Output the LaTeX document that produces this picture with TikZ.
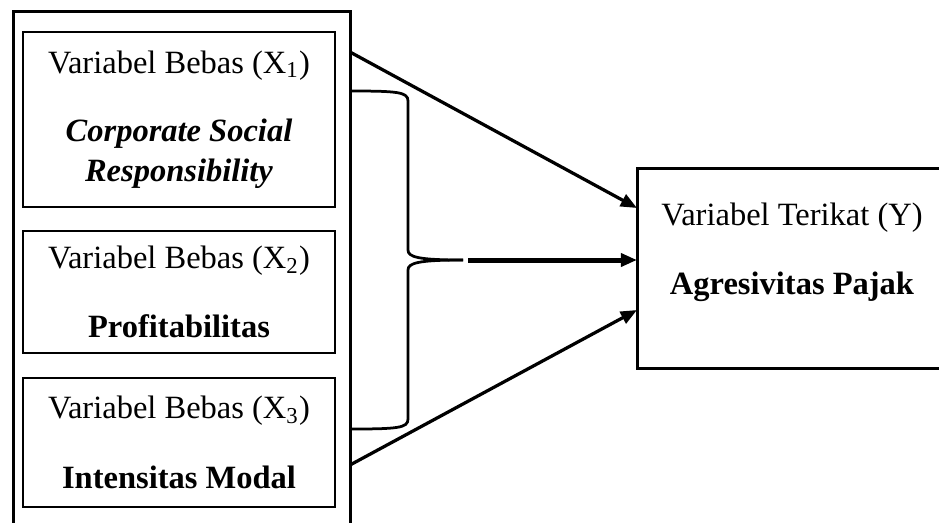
\documentclass[tikz,border=0pt]{standalone}
\usepackage{fontspec}
\setmainfont{Liberation Serif}
\usepackage{tikz}
\usetikzlibrary{arrows.meta}

\tikzset{
  outerbox/.style={draw, line width=1.2pt, anchor=north west, inner sep=0pt, outer sep=0pt},
  varbox/.style={draw, line width=0.6pt, anchor=north west, inner sep=0pt, outer sep=0pt,
                 minimum width=124.8pt, align=center, font=\fontsize{13}{15}\selectfont},
  vartext/.style={align=center, font=\fontsize{13}{15}\selectfont},
  arr/.style={-{Triangle[length=6.5pt,width=5.2pt]}, line width=1.3pt},
}

\begin{document}
\begin{tikzpicture}[x=0.4pt, y=-0.4pt]
                \useasboundingbox (0,0) rectangle (939,522);
                \clip (0,0) rectangle (939,522);

                % Independent variables
                \node[outerbox, minimum width=134.8pt, minimum height=212pt] (bebas) at (13,11) {};
                \node[varbox, minimum height=70pt] (x1) at (23,32)
                  {Variabel Bebas (X\textsubscript{1})\\[12.2pt]\textbf{\textit{Corporate Social}}\\[1pt]\textbf{\textit{Responsibility}}};
                \node[varbox, minimum height=48.8pt] (x2) at (23,231)
                  {Variabel Bebas (X\textsubscript{2})\\[12.6pt]\textbf{Profitabilitas}};
                \node[varbox, minimum height=51.6pt] (x3) at (23,378)
                  {Variabel Bebas (X\textsubscript{3})\\[13pt]\textbf{Intensitas Modal}};

                % Dependent variable
                \node[outerbox, minimum width=124pt, minimum height=80pt] (y) at (637,168) {};
                \node[vartext] (ylabel) at (792,252)
                  {Variabel Terikat (Y)\\[12.6pt]\textbf{Agresivitas Pajak}};

                % Brace
                \coordinate (b1) at (350,91);
                \coordinate (b3) at (350,429);
                \coordinate (tip) at (463,260);
                \draw[line width=1.1pt] (b1) .. controls (398,91) and (408,92) .. (408,101)
                  -- (408,250) .. controls (408,257) and (418,260) .. (tip);
                \draw[line width=1.1pt] (b3) .. controls (398,429) and (408,428) .. (408,419)
                  -- (408,270) .. controls (408,263) and (418,260) .. (tip);

                % Arrows
                \coordinate (s1) at (350,52);
                \coordinate (s2) at (468,260);
                \coordinate (s3) at (350,465);
                \coordinate (e1) at (637,208);
                \coordinate (e2) at (637,260);
                \coordinate (e3) at (637,310);
                \draw[arr] (s1) -- (e1);
                \draw[arr, line width=2pt] (s2) -- (e2);
                \draw[arr] (s3) -- (e3);
            \end{tikzpicture}
\end{document}
